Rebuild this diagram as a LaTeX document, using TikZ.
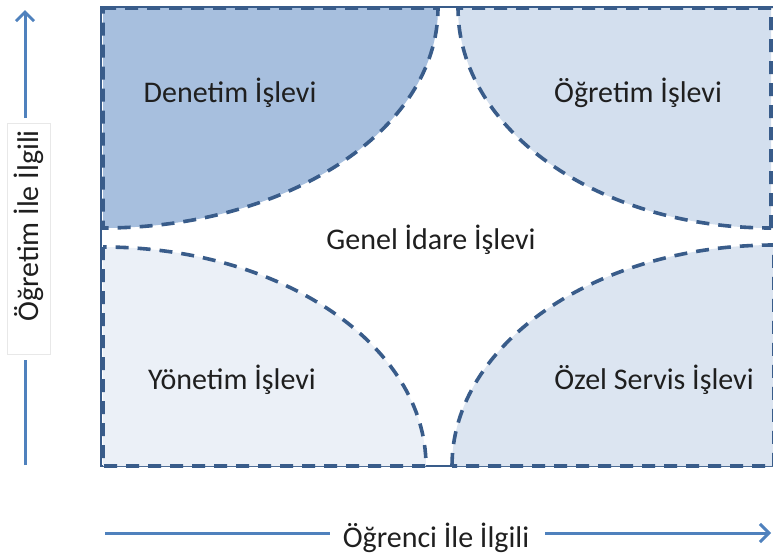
\documentclass[tikz,border=0pt]{standalone}
\usepackage{fontspec}
\setmainfont{Carlito}
\usetikzlibrary{arrows.meta}
\definecolor{edgeblue}{HTML}{395C8A}
\definecolor{axisblue}{HTML}{4F81BD}
\definecolor{fillA}{HTML}{A7BFDE}
\definecolor{fillB}{HTML}{D3DFEE}
\definecolor{fillC}{HTML}{EBF0F7}
\definecolor{fillD}{HTML}{DCE5F1}
\tikzset{
  region/.style={draw=edgeblue, line width=3.6pt, dash pattern=on 13pt off 9pt},
  frame/.style={draw=edgeblue, line width=2.5pt},
  lbl/.style={font=\fontsize{30}{36}\selectfont, text=black!88, inner sep=0pt},
  axis/.style={draw=axisblue, line width=3pt},
  axishead/.style={axis, -{Straight Barb[length=9pt,width=18pt,line width=3pt]}},
}
\begin{document}
\begin{tikzpicture}[x=1pt,y=-1pt]
  \useasboundingbox (0,0) rectangle (773,557);
  % outer frame of the general area
  \draw[frame, fill=white] (101,7) rectangle (774,466);
  % four corner regions (quarter ellipses)
  \draw[region, fill=fillA] (103,8) -- (438,8)
    .. controls (438,129.5) and (288,228) .. (103,228) -- cycle;
  \draw[region, fill=fillB] (771,228) -- (771,8) -- (458,8)
    .. controls (458,129.5) and (598,228) .. (771,228) -- cycle;
  \draw[region, fill=fillC] (103,247) -- (103,466) -- (426,466)
    .. controls (426,345) and (281,247) .. (103,247) -- cycle;
  \draw[region, fill=fillD] (452,466)
    .. controls (452,344) and (596,245) .. (774,245) -- (774,466) -- cycle;
  % region labels
  \node[lbl] (denetim) at (230,93) {Denetim İşlevi};
  \node[lbl] (ogretim) at (638,93) {Öğretim İşlevi};
  \node[lbl] (genel) at (431,240) {Genel İdare İşlevi};
  \node[lbl] (yonetim) at (232,380) {Yönetim İşlevi};
  \node[lbl] (ozel) at (654,380) {Özel Servis İşlevi};
  % axes
  \node[lbl] (xlab) at (436,538) {Öğrenci İle İlgili};
  \node[lbl, rotate=90] (ylab) at (29,226) {Öğretim İle İlgili};
  \draw[draw=black!9, line width=0.6pt] (7,123) rectangle (50,354);
  \coordinate (xstart) at (105,533);
  \coordinate (xend) at (771,533);
  \coordinate (ystart) at (25,465);
  \coordinate (yend) at (25,10);
  \coordinate (xgapl) at (330,533);
  \coordinate (xgapr) at (545,533);
  \coordinate (ygapb) at (25,360);
  \coordinate (ygapt) at (25,118);
  \draw[axis] (xstart) -- (xgapl);
  \draw[axishead] (xgapr) -- (xend);
  \draw[axis] (ystart) -- (ygapb);
  \draw[axishead] (ygapt) -- (yend);
\end{tikzpicture}
\end{document}
